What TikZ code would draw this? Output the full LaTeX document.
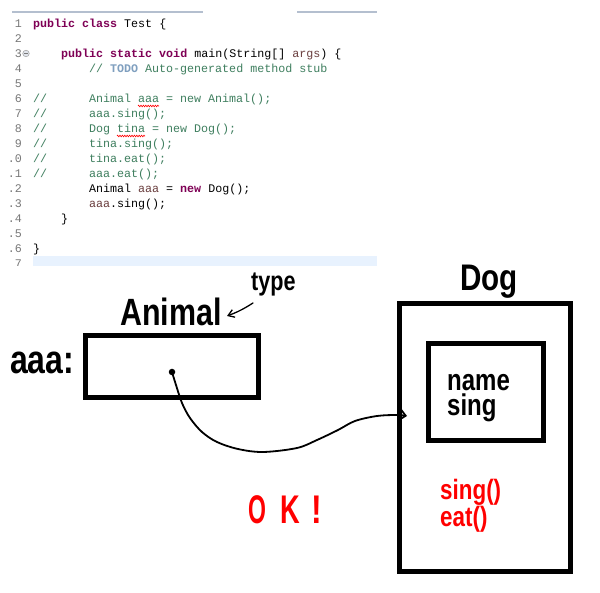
\documentclass[tikz,border=0pt]{standalone}
\usepackage{fontspec}
\usetikzlibrary{arrows.meta,decorations.pathmorphing}
\newfontfamily\codefont[WordSpace={1,0,0}]{Liberation Mono}
\newfontfamily\dgfont[FakeStretch=0.8]{Liberation Sans}
\definecolor{kwc}{HTML}{7F0055}
\definecolor{cmc}{HTML}{3F7F5F}
\definecolor{todoc}{HTML}{7F9FBF}
\definecolor{lvc}{HTML}{6A3E3E}
\definecolor{lnc}{HTML}{787878}
\definecolor{sepc}{HTML}{B4BFCF}
\definecolor{hlc}{HTML}{E8F2FE}
\newcommand\kw[1]{{\color{kwc}\bfseries #1}}
\newcommand\lv[1]{{\color{lvc}#1}}
\newcommand\todo[1]{{\color{todoc}\bfseries #1}}
\newcommand\codeln[3]{\node[code,anchor=base west] (l#1c#2) at ({33+7*#2},{28+15*(#1-1)}) {#3};}
\newcommand\lnum[2]{\node[lnum,anchor=base east] (n#1) at (22,{28+15*(#1-1)}) {#2};}
\newcommand\twolines[3]{\vtop{\baselineskip=#1\lineskiplimit=-\maxdimen\lineskip=0pt\hbox{#2}\hbox{#3}}}
\begin{document}
\begin{tikzpicture}[x=1pt,y=-1pt,
  code/.style={inner sep=0pt,font=\codefont\fontsize{11.67}{14}\selectfont},
  lnum/.style={inner sep=0pt,text=lnc,font=\codefont\fontsize{11.67}{14}\selectfont},
  box/.style={draw,line width=5pt,inner sep=0pt},
  lbl/.style={inner sep=0pt,anchor=base west},
  wire/.style={line width=1.8pt,line cap=round,line join=round},
  squig/.style={red,line width=0.6pt,decorate,decoration={zigzag,segment length=2.4pt,amplitude=0.8pt}}]
\path[use as bounding box,fill=white] (0,0) rectangle (600,593);
% ---------- code editor ----------
\draw[sepc,line width=2pt] (12,12.5) -- (203,12.5);
\draw[sepc,line width=2pt] (297,12.5) -- (377,12.5);
\begin{scope}
\clip (0,14) rectangle (600,266);
\fill[hlc] (33,256) rectangle (377,266);
\lnum{1}{1}\lnum{2}{2}\lnum{3}{3}\lnum{4}{4}\lnum{5}{5}\lnum{6}{6}\lnum{7}{7}\lnum{8}{8}\lnum{9}{9}
\lnum{10}{.0}\lnum{11}{.1}\lnum{12}{.2}\lnum{13}{.3}\lnum{14}{.4}\lnum{15}{.5}\lnum{16}{.6}\lnum{17}{7}
\codeln{1}{0}{\kw{public} \kw{class} Test \{}
\codeln{3}{4}{\kw{public} \kw{static} \kw{void} main(String[] \lv{args}) \{}
\codeln{4}{8}{\color{cmc}// \todo{TODO} Auto-generated method stub}
\codeln{6}{0}{\color{cmc}//}\codeln{6}{8}{\color{cmc}Animal aaa = new Animal();}
\codeln{7}{0}{\color{cmc}//}\codeln{7}{8}{\color{cmc}aaa.sing();}
\codeln{8}{0}{\color{cmc}//}\codeln{8}{8}{\color{cmc}Dog tina = new Dog();}
\codeln{9}{0}{\color{cmc}//}\codeln{9}{8}{\color{cmc}tina.sing();}
\codeln{10}{0}{\color{cmc}//}\codeln{10}{8}{\color{cmc}tina.eat();}
\codeln{11}{0}{\color{cmc}//}\codeln{11}{8}{\color{cmc}aaa.eat();}
\codeln{12}{8}{Animal \lv{aaa} = \kw{new} Dog();}
\codeln{13}{8}{\lv{aaa}.sing();}
\codeln{14}{4}{\}}
\codeln{16}{0}{\}}
\end{scope}
% fold marker
\node[circle,draw=lnc!70,fill=sepc!40,line width=0.5pt,minimum size=6.5pt,inner sep=0pt] (fold) at (26,53.5) {};
\draw[lnc,line width=0.8pt] ([xshift=-1.8pt]fold.center) -- ([xshift=1.8pt]fold.center);
% spelling squiggles
\draw[squig] (138,106) -- (159,106);
\draw[squig] (117,136) -- (145,136);
% ---------- diagram ----------
\node[lbl] (type) at (251,291) {\dgfont\bfseries\fontsize{27}{30}\selectfont type};
\node[lbl] (animal) at (120,326) {\dgfont\bfseries\fontsize{38}{40}\selectfont Animal};
\node[lbl] (aaa) at (10,374) {\dgfont\bfseries\fontsize{40}{42}\selectfont aaa:};
\node[lbl] (dog) at (460,291) {\dgfont\bfseries\fontsize{37}{40}\selectfont Dog};
\node[box,minimum width=173pt,minimum height=62pt] (abox) at (172,366.5) {};
\node[box,minimum width=171pt,minimum height=268pt] (dbox) at (485,437.5) {};
\node[box,minimum width=115pt,minimum height=97pt] (ibox) at (486,392) {};
\node[lbl] (fields) at (447,391) {\dgfont\bfseries\fontsize{30}{25}\selectfont\twolines{25pt}{name}{sing}};
\node[lbl,text=red] (methods) at (440,500) {\dgfont\bfseries\fontsize{28}{27}\selectfont\twolines{27pt}{sing()}{eat()}};
\node[lbl,text=red] (okO) at (248,523) {\dgfont\bfseries\fontsize{40}{42}\selectfont\scalebox{0.72}[1]{O}};
\node[lbl,text=red] (okK) at (280,523) {\dgfont\bfseries\fontsize{40}{42}\selectfont\scalebox{0.85}[1]{K}};
\node[lbl,text=red] (okX) at (311,523) {\dgfont\bfseries\fontsize{40}{42}\selectfont !};
% type arrow
\coordinate (tA) at (253,303);
\coordinate (tB) at (227,316);
\draw[line width=1.3pt,line cap=round,-{Straight Barb[length=6pt,width=8pt]}] (tA) to[bend left=6] (tB);
% reference dot and hand-drawn wire
\node[circle,fill=black,minimum size=6.5pt,inner sep=0pt] (dot) at (172,372) {};
\coordinate (tip) at (407,416);
\draw[wire,-{Straight Barb[length=6pt,width=11pt]}] plot[smooth,tension=0.55] coordinates {(dot.center) (176,385) (182,403) (190,418) (202,432) (217,442) (238,449) (263,452) (297,448) (317,440) (338,430) (355,421) (377,416) (397,415) (tip)};
\end{tikzpicture}
\end{document}
